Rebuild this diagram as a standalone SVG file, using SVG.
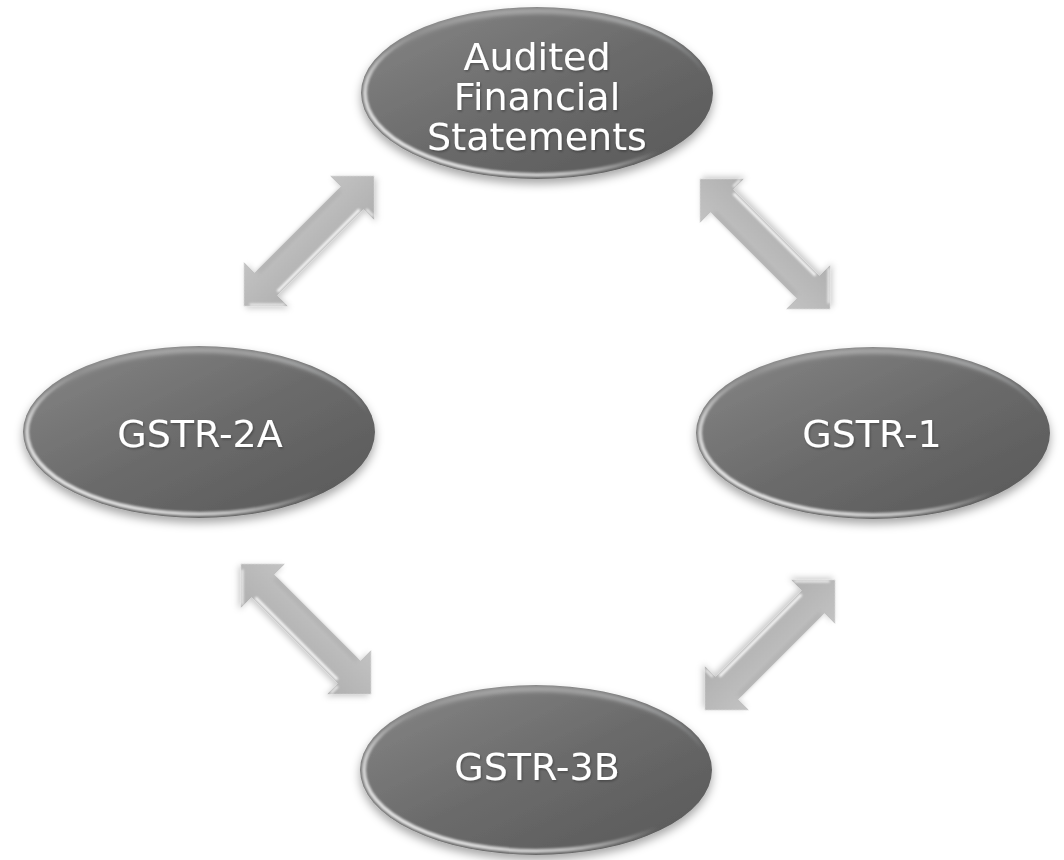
<svg xmlns="http://www.w3.org/2000/svg" xmlns:xlink="http://www.w3.org/1999/xlink" width="1064" height="860" viewBox="0 0 1064 860">
  <style>
    .label { font-family: "DejaVu Sans", Verdana, sans-serif; font-size: 38px; fill: #ffffff; text-anchor: middle; filter: url(#textShadow); }
    .body { fill: url(#nodeFill); filter: url(#nodeShadow); }
    .rimLow { fill: none; stroke: url(#rimLowGrad); stroke-width: 4; filter: url(#soft1); }
    .rimTop { fill: none; stroke: url(#rimTopGrad); stroke-width: 5; filter: url(#soft2); }
  </style>
  <defs>
    <linearGradient id="nodeFill" x1="0" y1="0" x2="1" y2="1">
      <stop offset="0" stop-color="#878787"/>
      <stop offset="0.5" stop-color="#6b6b6b"/>
      <stop offset="1" stop-color="#575757"/>
    </linearGradient>
    <linearGradient id="rimLowGrad" x1="0" y1="1" x2="1" y2="0">
      <stop offset="0" stop-color="#ffffff" stop-opacity="1"/>
      <stop offset="0.3" stop-color="#ffffff" stop-opacity="0.6"/>
      <stop offset="0.5" stop-color="#ffffff" stop-opacity="0"/>
      <stop offset="0.8" stop-color="#e8f0f4" stop-opacity="0"/>
      <stop offset="1" stop-color="#e8f0f4" stop-opacity="0.7"/>
    </linearGradient>
    <linearGradient id="rimTopGrad" x1="0" y1="0" x2="0" y2="1">
      <stop offset="0" stop-color="#ffffff" stop-opacity="0.4"/>
      <stop offset="0.25" stop-color="#ffffff" stop-opacity="0"/>
    </linearGradient>
    <linearGradient id="arrowFill" x1="0" y1="-31" x2="0" y2="31" gradientUnits="userSpaceOnUse">
      <stop offset="0" stop-color="#c3c3c3"/>
      <stop offset="0.5" stop-color="#b9b9b9"/>
      <stop offset="1" stop-color="#afafaf"/>
    </linearGradient>
    <filter id="nodeShadow" x="-20%" y="-20%" width="140%" height="150%">
      <feDropShadow dx="0" dy="5" stdDeviation="5" flood-color="#000000" flood-opacity="0.35"/>
    </filter>
    <filter id="arrowShadow" x="-30%" y="-30%" width="160%" height="160%">
      <feDropShadow dx="0" dy="3" stdDeviation="3" flood-color="#000000" flood-opacity="0.22"/>
    </filter>
    <filter id="textShadow" x="-10%" y="-20%" width="120%" height="150%">
      <feDropShadow dx="1" dy="1.5" stdDeviation="1" flood-color="#000000" flood-opacity="0.3"/>
    </filter>
    <filter id="soft1" filterUnits="userSpaceOnUse" x="-1200" y="-1200" width="2400" height="2400"><feGaussianBlur stdDeviation="0.8"/></filter>
    <filter id="soft2" filterUnits="userSpaceOnUse" x="-1200" y="-1200" width="2400" height="2400"><feGaussianBlur stdDeviation="2"/></filter>
    <!-- double-headed arrow, centred on the origin, lit edge on +y -->
    <g id="biArrow">
      <polygon points="-92,0 -61,-31 -61,-16 61,-16 61,-31 92,0 61,31 61,16 -61,16 -61,31" fill="url(#arrowFill)" filter="url(#arrowShadow)"/>
      <line x1="-58" y1="13.5" x2="58" y2="13.5" stroke="#ffffff" stroke-width="2.5" filter="url(#soft1)"/>
      <line x1="-62" y1="28" x2="-87" y2="3" stroke="#ffffff" stroke-opacity="0.85" stroke-width="2" filter="url(#soft1)"/>
      <line x1="63" y1="28" x2="63" y2="18" stroke="#ffffff" stroke-opacity="0.85" stroke-width="2" filter="url(#soft1)"/>
      <line x1="-58" y1="-14" x2="58" y2="-14" stroke="#a0a0a0" stroke-opacity="0.6" stroke-width="3" filter="url(#soft2)"/>
    </g>
  </defs>

  <rect width="1064" height="860" fill="#ffffff"/>

  <!-- connectors -->
  <g id="connectors">
    <use xlink:href="#biArrow" transform="translate(309,241) rotate(-45)"/>
    <use xlink:href="#biArrow" transform="translate(765,244) rotate(225)"/>
    <use xlink:href="#biArrow" transform="translate(306,629) rotate(45)"/>
    <use xlink:href="#biArrow" transform="translate(770,645) rotate(135)"/>
  </g>

  <!-- nodes -->
  <g id="node-afs">
    <ellipse class="body" cx="537" cy="93" rx="176" ry="86"/>
    <ellipse class="rimLow" cx="537" cy="93" rx="172" ry="82"/>
    <ellipse class="rimTop" cx="537" cy="93" rx="172" ry="82"/>
    <text class="label" x="537" y="70">Audited</text>
    <text class="label" x="537" y="110">Financial</text>
    <text class="label" x="537" y="150">Statements</text>
  </g>

  <g id="node-gstr2a">
    <ellipse class="body" cx="199" cy="432" rx="176" ry="86"/>
    <ellipse class="rimLow" cx="199" cy="432" rx="172" ry="82"/>
    <ellipse class="rimTop" cx="199" cy="432" rx="172" ry="82"/>
    <text class="label" x="200" y="447">GSTR-2A</text>
  </g>

  <g id="node-gstr1">
    <ellipse class="body" cx="873" cy="433" rx="177" ry="86"/>
    <ellipse class="rimLow" cx="873" cy="433" rx="173" ry="82"/>
    <ellipse class="rimTop" cx="873" cy="433" rx="173" ry="82"/>
    <text class="label" x="872" y="447">GSTR-1</text>
  </g>

  <g id="node-gstr3b">
    <ellipse class="body" cx="536" cy="770" rx="176" ry="85"/>
    <ellipse class="rimLow" cx="536" cy="770" rx="172" ry="81"/>
    <ellipse class="rimTop" cx="536" cy="770" rx="172" ry="81"/>
    <text class="label" x="537" y="780">GSTR-3B</text>
  </g>
</svg>
